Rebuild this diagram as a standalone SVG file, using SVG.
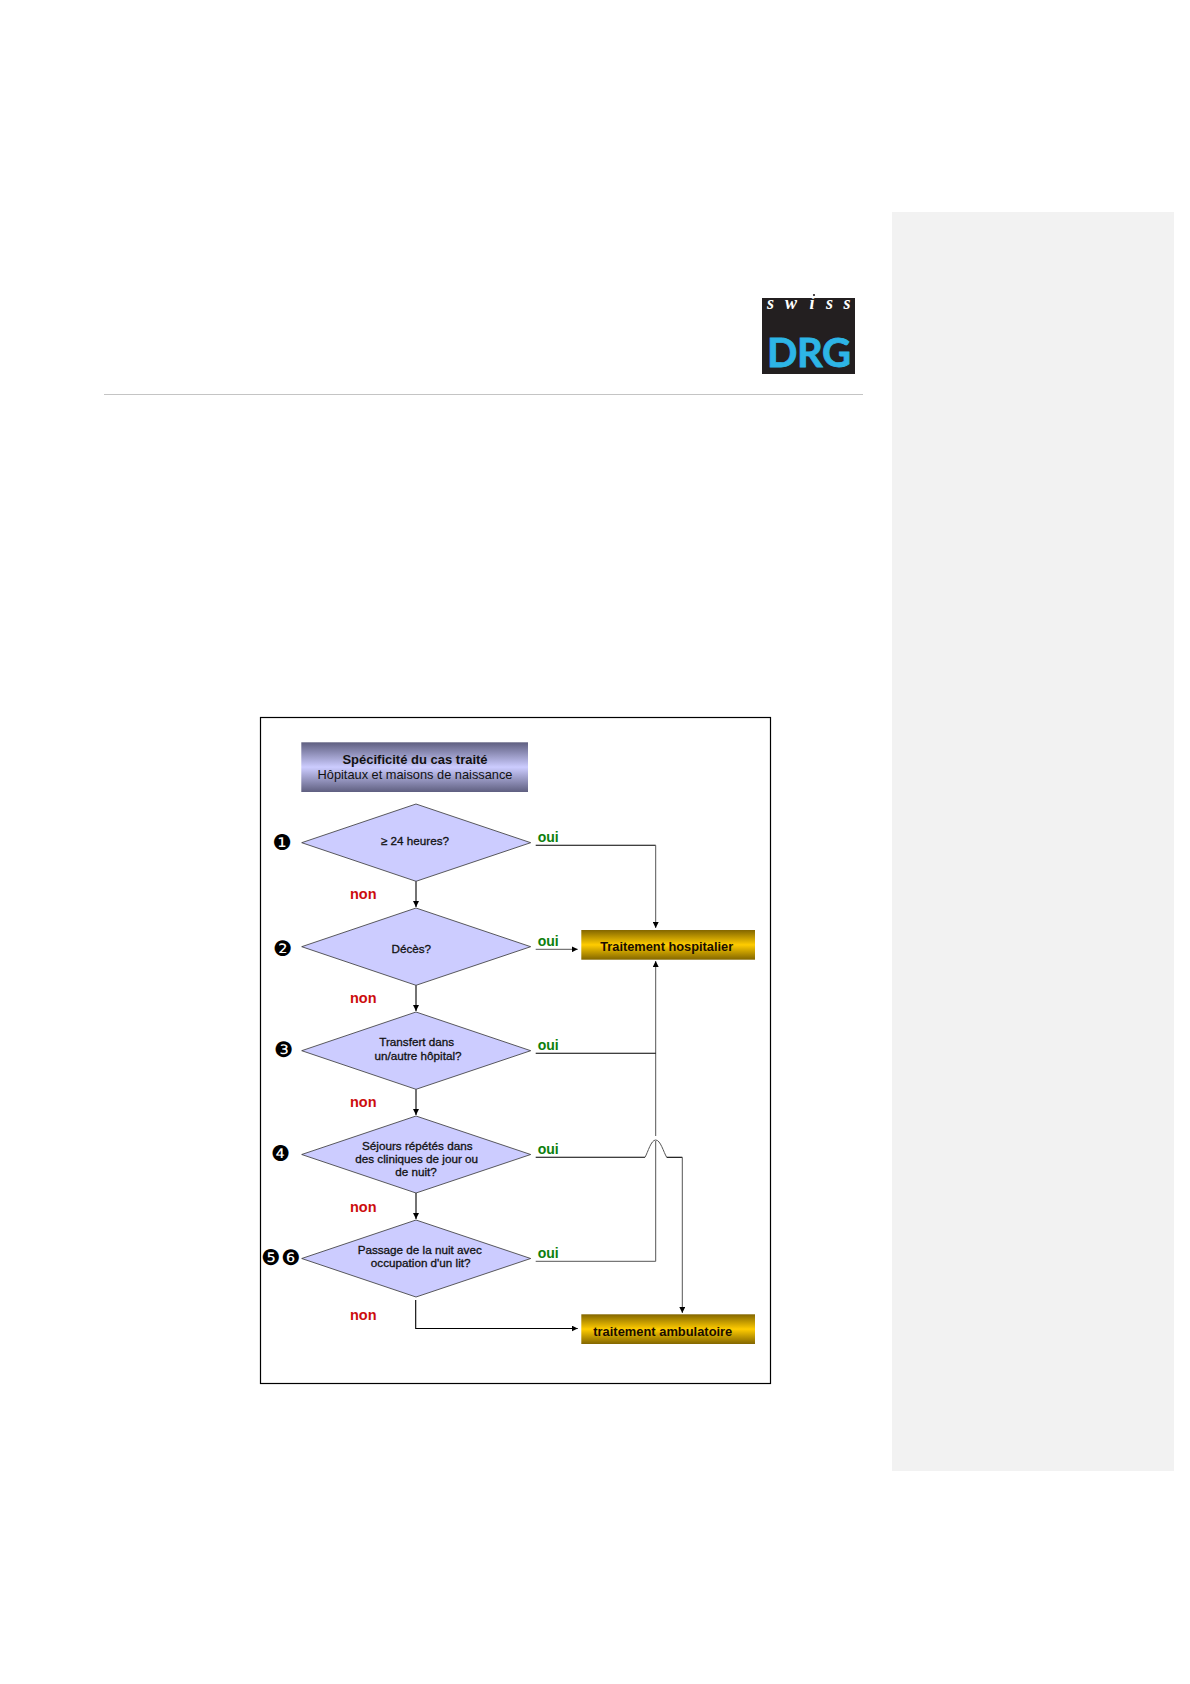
<svg xmlns="http://www.w3.org/2000/svg" width="1190" height="1684" viewBox="0 0 1190 1684">
<style>
text{font-family:"Liberation Sans",Arial,sans-serif;fill:#111}
.q{font-size:11.7px;text-anchor:middle;stroke:#111;stroke-width:.3}
.d{fill:#ccccff;stroke:#333;stroke-width:.8}
.oui{font-size:14px;font-weight:bold;fill:#0d800d}
.non{font-size:14.5px;font-weight:bold;fill:#cc0d0d}
.num{font-family:"DejaVu Sans",sans-serif;font-size:21.5px;text-anchor:middle;fill:#000}
.box{font-size:12.8px;font-weight:bold;text-anchor:middle;fill:#1a0d00}
.k{fill:none;stroke:#000;stroke-width:1.1}
.g{fill:none;stroke:#555;stroke-width:1}
</style>
<defs>
<linearGradient id="tg" x1="0" y1="0" x2="0" y2="1"><stop offset="0" stop-color="#5f5f80"/><stop offset=".5" stop-color="#ccccff"/><stop offset="1" stop-color="#5f5f80"/></linearGradient>
<linearGradient id="gold" x1="0" y1="0" x2="0" y2="1"><stop offset="0" stop-color="#836600"/><stop offset=".5" stop-color="#ffcc00"/><stop offset="1" stop-color="#836600"/></linearGradient>
<marker id="a" markerUnits="userSpaceOnUse" markerWidth="7" markerHeight="6" refX="6" refY="3" orient="auto"><path d="M0 0L6 3L0 6Z" fill="#000"/></marker>
</defs>
<g id="page">
<rect width="1190" height="1684" fill="#fff"/>
<rect x="892" y="212" width="282" height="1259" fill="#f2f2f2"/>
<rect x="104" y="394" width="759" height="1" fill="#c4c4c4"/>
</g>
<g id="logo">
<rect x="762" y="298" width="93" height="76" fill="#231f20"/>
<circle cx="814" cy="295" r="1.1" fill="#231f20"/>
<text x="767 785 809.5 826 843.5" y="309" font-size="18" style="font-family:'Liberation Serif',serif;font-weight:bold;font-style:italic;fill:#fff">swiss</text>
<text x="767 797 822" y="366.7" font-size="40" style="font-family:Lato,sans-serif;font-weight:bold;fill:#2db5e6;stroke:#2db5e6;stroke-width:.8">DRG</text>
</g>
<rect id="frame" x="260.5" y="717.5" width="510" height="666" fill="#fff" stroke="#000" stroke-width="1.2"/>
<g id="connectors">
<path class="k" d="M416 881.3V907" marker-end="url(#a)"/>
<path class="k" d="M416 985.3V1011" marker-end="url(#a)"/>
<path class="k" d="M416 1089.3V1115" marker-end="url(#a)"/>
<path class="k" d="M416 1193V1219" marker-end="url(#a)"/>
<path class="k" d="M535.7 845.3H655.7"/>
<path class="g" d="M655.7 845.3V928" marker-end="url(#a)"/>
<path class="g" d="M535.7 949.3H577.7" marker-end="url(#a)"/>
<path class="g" d="M655.7 1136V961" marker-end="url(#a)"/>
<path class="k" d="M535.7 1053.3H655.7"/>
<path class="g" d="M535.7 1261.3H655.7V1141"/>
<path class="k" d="M535.7 1157.3H645"/>
<path class="g" d="M645 1157.3C648 1152 651 1140 655.7 1140C660.5 1140 663.5 1152 666.7 1157.3"/>
<path class="k" d="M666.7 1157.3H682.3"/>
<path class="g" d="M682.3 1157.3V1313" marker-end="url(#a)"/>
<path class="k" d="M415.7 1300V1328.5H577.7" marker-end="url(#a)"/>
</g>
<g id="title">
<rect x="301.3" y="742.3" width="226.7" height="49.7" fill="url(#tg)"/>
<text x="415" y="764" font-size="13" font-weight="bold" text-anchor="middle">Spécificité du cas traité</text>
<text x="415" y="779.3" font-size="12.8" text-anchor="middle">Hôpitaux et maisons de naissance</text>
</g>
<g id="q1">
<path class="d" d="M301.7 842.7L416 804L530.7 842.7L416 881.3Z"/>
<text class="num" x="282" y="849.5">❶</text>
<text class="q" x="415" y="845">≥ 24 heures?</text>
<text class="oui" x="537.7" y="842">oui</text>
<text class="non" x="350" y="899">non</text>
</g>
<g id="q2">
<path class="d" d="M301.7 946.7L416 908L530.7 946.7L416 985.3Z"/>
<text class="num" x="282.7" y="956">❷</text>
<text class="q" x="411.3" y="952.7">Décès?</text>
<text class="oui" x="537.7" y="946">oui</text>
<text class="non" x="350" y="1003">non</text>
</g>
<g id="q3">
<path class="d" d="M301.7 1050.7L416 1012L530.7 1050.7L416 1089.3Z"/>
<text class="num" x="283.3" y="1057">❸</text>
<text class="q" x="416.7" y="1046">Transfert dans</text>
<text class="q" x="418" y="1059.7">un/autre hôpital?</text>
<text class="oui" x="537.7" y="1050">oui</text>
<text class="non" x="350" y="1107.3">non</text>
</g>
<g id="q4">
<path class="d" d="M301.7 1154.5L416 1116L530.7 1154.5L416 1193Z"/>
<text class="num" x="280.7" y="1161">❹</text>
<text class="q" x="417.3" y="1150">Séjours répétés dans</text>
<text class="q" x="416.7" y="1162.7">des cliniques de jour ou</text>
<text class="q" x="416" y="1175.7">de nuit?</text>
<text class="oui" x="537.7" y="1154.3">oui</text>
<text class="non" x="350" y="1211.7">non</text>
</g>
<g id="q5">
<path class="d" d="M301.7 1258.5L416 1220L530.7 1258.5L416 1297Z"/>
<text class="num" x="270.7" y="1264.5">❺</text>
<text class="num" x="290.7" y="1264.5">❻</text>
<text class="q" x="419.7" y="1254.3">Passage de la nuit avec</text>
<text class="q" x="420.7" y="1266.7">occupation d'un lit?</text>
<text class="oui" x="537.7" y="1257.7">oui</text>
<text class="non" x="350" y="1320">non</text>
</g>
<g id="hospitalier">
<rect x="581.3" y="930" width="173.7" height="29.7" fill="url(#gold)"/>
<text class="box" x="666.7" y="950.7">Traitement hospitalier</text>
</g>
<g id="ambulatoire">
<rect x="581.3" y="1314.3" width="173.7" height="29.7" fill="url(#gold)"/>
<text class="box" x="662.8" y="1335.7" style="font-size:12.9px">traitement ambulatoire</text>
</g>
</svg>
